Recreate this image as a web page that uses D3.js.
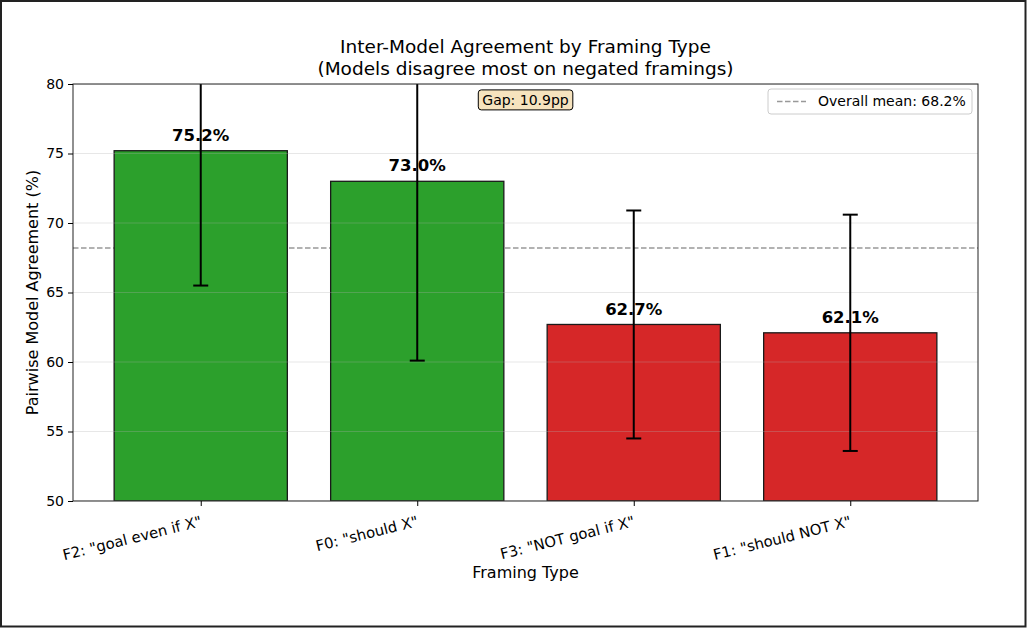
<!DOCTYPE html>
<html>
<head>
<meta charset="utf-8">
<script src="https://cdn.jsdelivr.net/npm/d3@7"></script>
<style>
  html, body { margin: 0; padding: 0; background: #fff; }
  svg { display: block; font-family: "DejaVu Sans", sans-serif; }
</style>
</head>
<body>
<svg id="chart" width="1027" height="628"></svg>
<script>
// framing types, left to right
var framings = ['F2: "goal even if X"', 'F0: "should X"', 'F3: "NOT goal if X"', 'F1: "should NOT X"']
var agreement = [75.2, 73.0, 62.7, 62.1]
var errors = [9.7, 12.9, 8.2, 8.5]
var barColors = ["#2ca02c", "#2ca02c", "#d62728", "#d62728"]
var yTicks = [50, 55, 60, 65, 70, 75, 80]
var overallMean = 68.2
var gapText = "Gap: 10.9pp"

var W = 1027, H = 628
var margin = {left: 73, top: 84, right: 49, bottom: 127}
var plotW = W - margin.left - margin.right
var plotH = H - margin.top - margin.bottom

var svg = d3.select("#chart")
svg.append("rect").attr("x", 1).attr("y", 1).attr("width", W - 2.5).attr("height", H - 2.5)
  .style("fill", "#fff").style("stroke", "#222").style("stroke-width", 2)

// matplotlib style x limits: bars at 0..n-1 width 0.8, 5% margins
var n = framings.length
var lo = -0.4, hi = n - 1 + 0.4, pad = (hi - lo) * 0.05
var x = d3.scaleLinear().domain([lo - pad, hi + pad]).range([0, plotW])
var y = d3.scaleLinear().domain([50, 80]).range([plotH, 0])

var g = svg.append("g").attr("transform", "translate(" + margin.left + "," + margin.top + ")")

var defs = svg.append("defs")
defs.append("clipPath").attr("id", "plotclip").append("rect").attr("width", plotW).attr("height", plotH)

var inner = g.append("g").attr("clip-path", "url(#plotclip)")

// mean line (behind bars)
inner.append("line")
  .attr("x1", 0).attr("x2", plotW)
  .attr("y1", y(overallMean)).attr("y2", y(overallMean))
  .style("stroke", "#999").style("stroke-width", 1.5).style("stroke-dasharray", "5.5,2.5")

// bars
inner.selectAll(".bar").data(agreement).enter().append("rect")
  .classed("bar", true)
  .attr("x", function (d, i) { return x(i - 0.4) })
  .attr("width", function () { return x(0.8) - x(0) })
  .attr("y", function (d) { return y(d) })
  .attr("height", function (d) { return plotH - y(d) })
  .style("fill", function (d, i) { return barColors[i] })
  .style("stroke", "#1a1a1a").style("stroke-width", 1.3)

// grid on top of bars, faint
inner.selectAll(".grid").data(yTicks).enter().append("line")
  .attr("x1", 0).attr("x2", plotW)
  .attr("y1", function (d) { return y(d) }).attr("y2", function (d) { return y(d) })
  .style("stroke", "#b0b0b0").style("stroke-opacity", 0.3).style("stroke-width", 1)

// error bars
var eb = inner.selectAll(".err").data(agreement).enter().append("g").classed("err", true)
eb.append("line")
  .attr("x1", function (d, i) { return x(i) }).attr("x2", function (d, i) { return x(i) })
  .attr("y1", function (d, i) { return y(d - errors[i]) }).attr("y2", function (d, i) { return y(d + errors[i]) })
  .style("stroke", "#000").style("stroke-width", 2)
eb.append("line")
  .attr("x1", function (d, i) { return x(i) - 7.5 }).attr("x2", function (d, i) { return x(i) + 7.5 })
  .attr("y1", function (d, i) { return y(d - errors[i]) }).attr("y2", function (d, i) { return y(d - errors[i]) })
  .style("stroke", "#000").style("stroke-width", 2)
eb.append("line")
  .attr("x1", function (d, i) { return x(i) - 7.5 }).attr("x2", function (d, i) { return x(i) + 7.5 })
  .attr("y1", function (d, i) { return y(d + errors[i]) }).attr("y2", function (d, i) { return y(d + errors[i]) })
  .style("stroke", "#000").style("stroke-width", 2)

// value labels
g.selectAll(".val").data(agreement).enter().append("text")
  .attr("x", function (d, i) { return x(i) })
  .attr("y", function (d) { return y(d + 0.5) - 3 })
  .attr("text-anchor", "middle")
  .style("font-size", "16.5px").style("font-weight", "bold").style("fill", "#000")
  .text(function (d) { return d.toFixed(1) + "%" })

// axes frame
g.append("rect").attr("width", plotW).attr("height", plotH)
  .style("fill", "none").style("stroke", "#222").style("stroke-width", 1)

var yAxis = g.append("g").call(d3.axisLeft(y).tickValues(yTicks).tickSize(5).tickPadding(4))
yAxis.select(".domain").remove()
yAxis.selectAll("text").style("font-size", "14px").style("font-family", "DejaVu Sans").style("fill", "#000")

var xAxis = g.append("g").attr("transform", "translate(0," + plotH + ")")
  .call(d3.axisBottom(x).tickValues(d3.range(n)).tickSize(5).tickFormat(function (d) { return framings[d] }))
xAxis.select(".domain").remove()
xAxis.selectAll("text")
  .style("font-size", "14.8px").style("font-family", "DejaVu Sans").style("fill", "#000")
  .attr("text-anchor", "end")
  .attr("dy", "0.7em")
  .attr("transform", "translate(-3,7) rotate(-14)")

// axis titles
svg.append("text").attr("x", margin.left + plotW / 2).attr("y", 578)
  .attr("text-anchor", "middle").style("font-size", "16px").text("Framing Type")
svg.append("text").attr("transform", "translate(38," + (margin.top + plotH / 2) + ") rotate(-90)")
  .attr("text-anchor", "middle").style("font-size", "16px").text("Pairwise Model Agreement (%)")

// title
var title = svg.append("text").attr("x", margin.left + plotW / 2).attr("text-anchor", "middle").style("font-size", "18.5px")
title.append("tspan").attr("x", margin.left + plotW / 2).attr("y", 53).text("Inter-Model Agreement by Framing Type")
title.append("tspan").attr("x", margin.left + plotW / 2).attr("y", 75).text("(Models disagree most on negated framings)")

// gap annotation box
var gapG = g.append("g").attr("transform", "translate(" + (plotW / 2) + ",16)")
var gapT = gapG.append("text").attr("text-anchor", "middle").attr("dy", "0.35em")
  .style("font-size", "14px").text(gapText)
var bb = gapT.node().getBBox()
gapG.insert("rect", "text")
  .attr("x", bb.x - 4).attr("y", bb.y - 2).attr("width", bb.width + 8).attr("height", bb.height + 4)
  .attr("rx", 3).style("fill", "#f5deb3").style("fill-opacity", 0.85)
  .style("stroke", "#000").style("stroke-width", 1)

// legend
var lg = g.append("g").attr("transform", "translate(" + (plotW - 210) + ",5)")
lg.append("rect").attr("width", 204).attr("height", 25).attr("rx", 3)
  .style("fill", "#fff").style("fill-opacity", 0.8).style("stroke", "#ccc").style("stroke-width", 1)
lg.append("line").attr("x1", 9).attr("x2", 38).attr("y1", 12.5).attr("y2", 12.5)
  .style("stroke", "#999").style("stroke-width", 1.5).style("stroke-dasharray", "5.5,2.5")
lg.append("text").attr("x", 50).attr("y", 12.5).attr("dy", "0.35em").style("font-size", "14px")
  .text("Overall mean: " + overallMean.toFixed(1) + "%")
</script>
</body>
</html>
